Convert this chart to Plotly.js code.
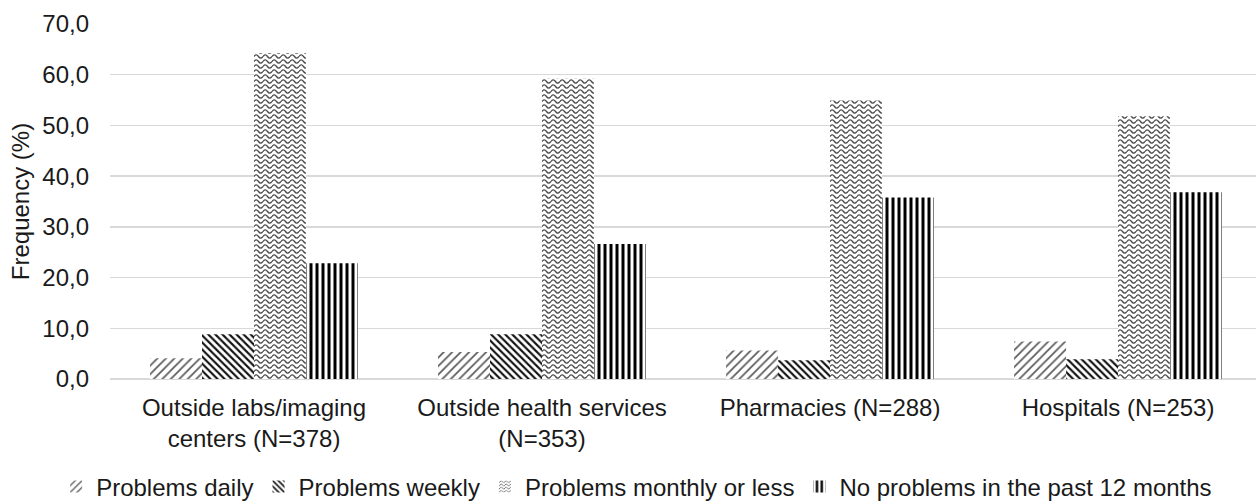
<!DOCTYPE html>
<html>
<head>
<meta charset="utf-8">
<script src="https://cdn.plot.ly/plotly-3.0.1.min.js"></script>
<style>
  html, body { margin: 0; padding: 0; background: #ffffff; }
  #chart { width: 1256px; height: 503px; }
</style>
</head>
<body>
<div id="chart"></div>
<script>
const categories = [
  "Outside labs/imaging<br>centers (N=378)",
  "Outside health services<br>(N=353)",
  "Pharmacies (N=288)",
  "Hospitals (N=253)"
];
const seriesNames = [
  "Problems daily",
  "Problems weekly",
  "Problems monthly or less",
  "No problems in the past 12 months"
];
const problemsDaily   = [4.1, 5.3, 5.6, 7.4];
const problemsWeekly  = [8.8, 8.8, 3.7, 3.9];
const problemsMonthly = [64.3, 59.2, 54.9, 51.8];
const noProblems      = [22.8, 26.6, 35.8, 36.8];
const yTicks = [0, 10, 20, 30, 40, 50, 60, 70];

const FONT = "Liberation Sans, Arial, sans-serif";
const TXT = "#1a1a1a";
const seriesValues = [problemsDaily, problemsWeekly, problemsMonthly, noProblems];
const patterns = [
  {shape: "/",  fgcolor: "#5a5a5a", bgcolor: "#ffffff", size: 6, solidity: 0.28, fillmode: "replace"},
  {shape: "\\", fgcolor: "#111111", bgcolor: "#ffffff", size: 5, solidity: 0.42, fillmode: "replace"},
  {shape: "-",  fgcolor: "#555555", bgcolor: "#ffffff", size: 5, solidity: 0.25, fillmode: "replace"},
  {shape: "|",  fgcolor: "#000000", bgcolor: "#ffffff", size: 6, solidity: 0.5,  fillmode: "replace"}
];

const data = seriesValues.map((vals, i) => ({
  type: "bar",
  name: seriesNames[i],
  x: categories,
  y: vals,
  marker: {
    color: patterns[i].fgcolor,
    line: {width: 0},
    pattern: patterns[i]
  },
  hoverinfo: "skip"
}));

const layout = {
  width: 1256,
  height: 503,
  margin: {l: 110, r: 0, t: 24, b: 124, pad: 0, autoexpand: false},
  paper_bgcolor: "#ffffff",
  plot_bgcolor: "#ffffff",
  separators: ", ",
  font: {family: FONT, size: 24, color: TXT},
  barmode: "group",
  bargap: 0.278,
  bargroupgap: 0,
  showlegend: true,
  legend: {
    orientation: "h",
    x: -0.047, xanchor: "left",
    y: -0.304, yanchor: "middle",
    bgcolor: "rgba(0,0,0,0)",
    font: {family: FONT, size: 24, color: TXT},
    itemwidth: 30,
    tracegroupgap: 0
  },
  xaxis: {
    type: "category",
    range: [-0.5, 3.479],
    automargin: false,
    showgrid: false,
    zeroline: false,
    showline: false,
    ticks: "",
    tickangle: 0,
    ticklabelstandoff: 12,
    tickfont: {family: FONT, size: 24, color: TXT},
    fixedrange: true
  },
  yaxis: {
    range: [0, 70],
    automargin: false,
    tickvals: yTicks,
    tickformat: ".1f",
    showgrid: true,
    gridcolor: "#d9d9d9",
    gridwidth: 1.3,
    zeroline: true,
    zerolinecolor: "#d9d9d9",
    zerolinewidth: 1.3,
    showline: false,
    ticks: "",
    ticklabelstandoff: 20,
    tickfont: {family: FONT, size: 24, color: TXT},
    title: {text: "Frequency (%)", font: {family: FONT, size: 24, color: TXT}, standoff: 5},
    fixedrange: true
  }
};

function wavify(gd) {
  const els = [];
  const traces = gd.querySelectorAll(".barlayer .trace");
  if (traces[2]) traces[2].querySelectorAll("path").forEach(p => els.push(p));
  const legTr = gd.querySelectorAll(".legend .traces");
  if (legTr[2]) legTr[2].querySelectorAll(".legendpoints path").forEach(p => els.push(p));
  const done = new Set();
  const NS = "http://www.w3.org/2000/svg";
  els.forEach(el => {
    const f = el.style.fill || el.getAttribute("fill") || "";
    const m = f.match(/#([^'")\s]+)/);
    if (!m) return;
    const id = m[1];
    if (done.has(id)) return;
    done.add(id);
    const pat = document.getElementById(id);
    if (!pat) return;
    const isLegend = el.closest(".legend") !== null;
    const w = isLegend ? 6 : 9, h = isLegend ? 4 : 5;
    pat.setAttribute("width", w);
    pat.setAttribute("height", h);
    while (pat.firstChild) pat.removeChild(pat.firstChild);
    const rect = document.createElementNS(NS, "rect");
    rect.setAttribute("x", 0); rect.setAttribute("y", 0);
    rect.setAttribute("width", w); rect.setAttribute("height", h);
    rect.setAttribute("fill", "#ffffff");
    pat.appendChild(rect);
    const path = document.createElementNS(NS, "path");
    const my = h / 2, a = h * 0.32;
    path.setAttribute("d",
      `M0,${my} Q${w/4},${my - 2*a} ${w/2},${my} T${w},${my}`);
    path.setAttribute("fill", "none");
    path.setAttribute("stroke", "#4a4a4a");
    path.setAttribute("stroke-width", isLegend ? 0.9 : 1.35);
    pat.appendChild(path);
  });
}

const gd = document.getElementById("chart");
Plotly.newPlot(gd, data, layout, {displayModeBar: false, staticPlot: true}).then(() => wavify(gd));
</script>
</body>
</html>
